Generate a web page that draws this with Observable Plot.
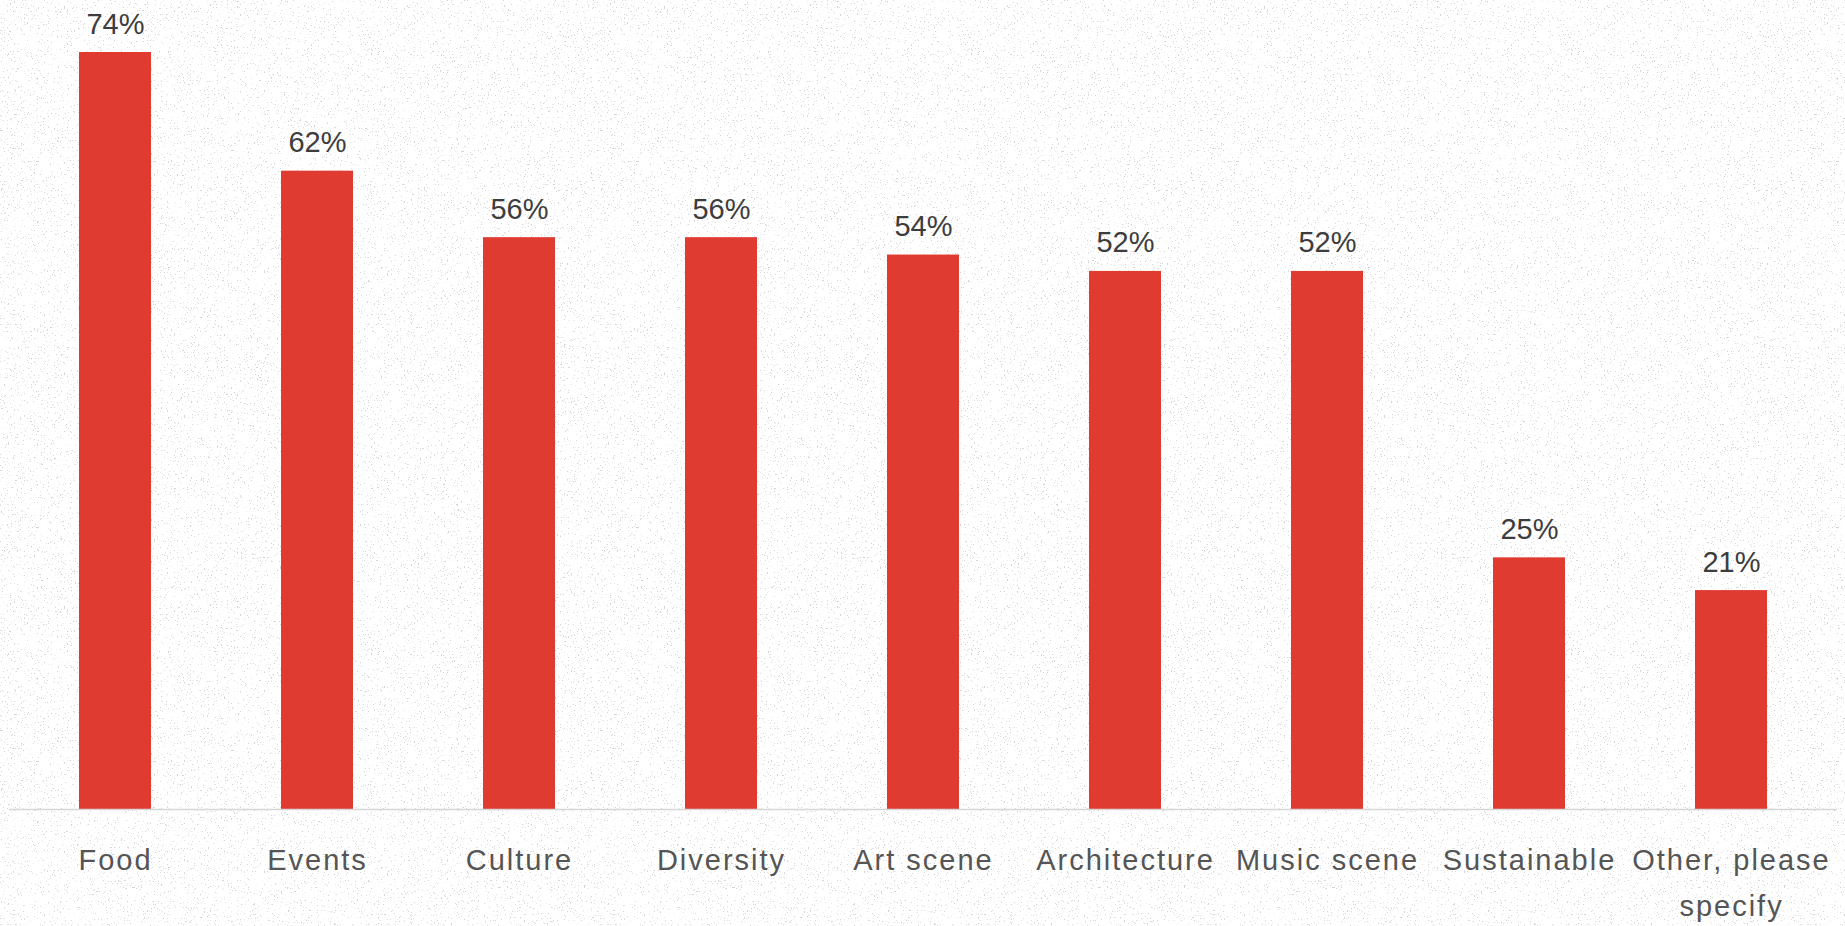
<!DOCTYPE html>
<html>
<head>
<meta charset="utf-8">
<script src="https://cdn.jsdelivr.net/npm/d3@7"></script>
<script src="https://cdn.jsdelivr.net/npm/@observablehq/plot@0.6"></script>
<style>
  html, body { margin: 0; padding: 0; background: #ffffff; }
  #bg {
    position: absolute; left: 0; top: 0; width: 1845px; height: 926px;
    background-image: url("data:image/svg+xml;utf8,<svg xmlns='http://www.w3.org/2000/svg' width='600' height='600'><filter id='n'><feTurbulence type='fractalNoise' baseFrequency='0.7' numOctaves='3' seed='7'/><feColorMatrix type='matrix' values='0 0 0 0 0.4  0 0 0 0 0.4  0 0 0 0 0.4  14 0 0 0 -9.3'/></filter><rect width='600' height='600' filter='url(%23n)'/></svg>");
    opacity: 0.5;
  }
  #chart { position: absolute; left: 0; top: 0; }
  g[aria-label="x-axis tick label"] text { letter-spacing: 2px; }
</style>
</head>
<body>
<div id="bg"></div>
<div id="chart"></div>
<script>
const categories = ["Food", "Events", "Culture", "Diversity", "Art scene", "Architecture", "Music scene", "Sustainable", "Other, please specify"];
const values = [74, 62.4, 55.9, 55.9, 54.2, 52.6, 52.6, 24.6, 21.4];
const valueLabels = ["74%", "62%", "56%", "56%", "54%", "52%", "52%", "25%", "21%"];
const tickLabels = ["Food", "Events", "Culture", "Diversity", "Art scene", "Architecture", "Music scene", "Sustainable", "Other, please\nspecify"];

const data = categories.map((c, i) => ({category: c, value: values[i], label: valueLabels[i]}));
const tickMap = new Map(categories.map((c, i) => [c, tickLabels[i]]));

const chart = Plot.plot({
  width: 1845,
  height: 926,
  marginLeft: 9,
  marginRight: 8,
  marginTop: 52,
  marginBottom: 117,
  style: {background: "transparent", fontFamily: "'Liberation Sans', Arial, sans-serif"},
  x: {domain: categories, paddingInner: 0.644, paddingOuter: 0.338, label: null},
  y: {domain: [0, 74], axis: null},
  marks: [
    Plot.barY(data, {x: "category", y: "value", fill: "#e03b31"}),
    Plot.ruleY([0], {stroke: "#d6d6d6", strokeWidth: 1.5}),
    Plot.text(data, {x: "category", y: "value", text: "label", dy: -19, lineAnchor: "bottom", fontSize: 29, fill: "#3d3d3d"}),
    Plot.axisX({tickSize: 0, tickPadding: 28, fontSize: 29, fill: "#555555", lineHeight: 1.58, tickFormat: d => tickMap.get(d), label: null})
  ]
});
document.getElementById("chart").appendChild(chart);
</script>
</body>
</html>
